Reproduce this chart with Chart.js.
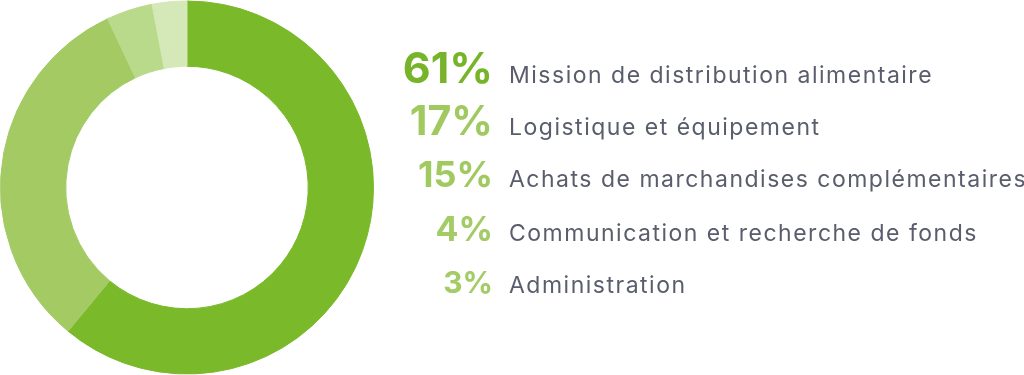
<!DOCTYPE html>
<html>
<head>
<meta charset="utf-8">
<script src="https://cdn.jsdelivr.net/npm/chart.js@4/dist/chart.umd.min.js"></script>
<style>
    html, body { margin: 0; padding: 0; background: #ffffff; }
    #wrap { width: 1024px; height: 375px; position: relative; }
</style>
</head>
<body>
<div id="wrap"><canvas id="budget"></canvas></div>
<script>
var categories = [
    'Mission de distribution alimentaire',
    'Logistique et équipement',
    'Achats de marchandises complémentaires',
    'Communication et recherche de fonds',
    'Administration'
];
var shares = [61, 17, 15, 4, 3];

var sliceColors = ['#7ab929', '#a3ca63', '#a3ca63', '#b9d98b', '#d5e8b8'];
var pctColors = ['#77b42a', '#a0c960', '#a0c960', '#a3cb66', '#a3cb66'];

// legend placement (px) - tuned by eye against the picture
var pctRight = 493;
var labelLeft = 509;
var rowBaselines = [83, 135, 187, 241, 293];
var pctSizes = [43, 41, 36, 34, 30];

var sideLegend = {
    id: 'sideLegend',
    afterDraw: function (chart) {
        var ctx = chart.ctx;
        var labels = chart.data.labels;
        var values = chart.data.datasets[0].data;
        ctx.save();
        ctx.textBaseline = 'alphabetic';
        for (var i = 0; i < labels.length; i++) {
            ctx.letterSpacing = '0px';
            ctx.font = 'bold ' + pctSizes[i] + 'px Inter';
            ctx.fillStyle = pctColors[i];
            ctx.textAlign = 'right';
            ctx.fillText(values[i] + '%', pctRight, rowBaselines[i]);

            ctx.letterSpacing = '1.5px';
            ctx.font = '23px Inter';
            ctx.fillStyle = '#595d6c';
            ctx.textAlign = 'left';
            ctx.fillText(labels[i], labelLeft, rowBaselines[i]);
        }
        ctx.restore();
    }
};

new Chart(document.getElementById('budget'), {
    type: 'doughnut',
    data: {
        labels: categories,
        datasets: [
            {
                data: shares,
                backgroundColor: sliceColors,
                borderColor: sliceColors,
                borderWidth: 1
            }
        ]
    },
    options: {
        responsive: true,
        maintainAspectRatio: false,
        animation: false,
        cutout: '65%',
        layout: { padding: { left: 0, right: 650, top: 0, bottom: 0 } },
        plugins: {
            legend: { display: false },
            tooltip: { enabled: false }
        }
    },
    plugins: [sideLegend]
});
</script>
</body>
</html>
